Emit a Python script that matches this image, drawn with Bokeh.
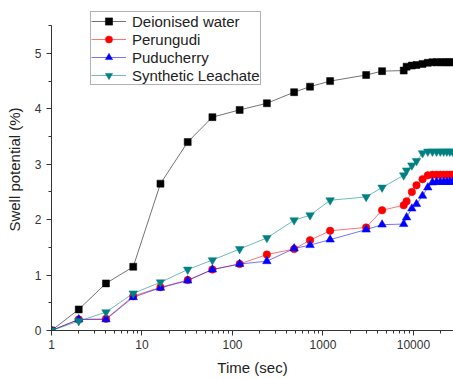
from bokeh.plotting import figure
from bokeh.models import (Range1d, FixedTicker, SingleIntervalTicker,
                          CustomJSTickFormatter, Legend, LegendItem)
from bokeh.embed import file_html
from bokeh.resources import INLINE

# ---- data ----
times = [1, 2, 4, 8, 16, 32, 60, 120, 240, 480, 720, 1200, 3000, 4500,
         7800, 8400, 9600, 10800, 12600, 14400, 16200, 18000, 19800,
         21600, 23400, 25200, 27000]

deionised = [0, 0.38, 0.85, 1.15, 2.65, 3.40, 3.85, 3.98, 4.10, 4.30, 4.40,
             4.50, 4.61, 4.68, 4.69, 4.76, 4.78, 4.79, 4.81, 4.83, 4.84,
             4.84, 4.84, 4.84, 4.84, 4.84, 4.84]
perungudi = [0, 0.20, 0.21, 0.62, 0.78, 0.91, 1.10, 1.20, 1.37, 1.47, 1.63,
             1.80, 1.86, 2.17, 2.26, 2.33, 2.50, 2.62, 2.73, 2.80, 2.81,
             2.81, 2.81, 2.81, 2.81, 2.81, 2.81]
puducherry = [0, 0.20, 0.20, 0.60, 0.77, 0.90, 1.10, 1.20, 1.25, 1.48, 1.54,
              1.64, 1.82, 1.91, 1.92, 2.04, 2.20, 2.28, 2.43, 2.58, 2.67,
              2.68, 2.68, 2.68, 2.68, 2.68, 2.68]
synthetic = [0, 0.17, 0.33, 0.67, 0.87, 1.10, 1.27, 1.47, 1.67, 1.99, 2.08,
             2.35, 2.41, 2.58, 2.80, 2.89, 2.98, 3.06, 3.20, 3.23, 3.23,
             3.23, 3.23, 3.23, 3.23, 3.23, 3.23]

series_names = ["Deionised water", "Perungudi", "Puducherry", "Synthetic Leachate"]
x_major = [1, 10, 100, 1000, 10000]
x_minor = [m * d for d in [1, 10, 100, 1000, 10000] for m in range(2, 10)]
y_axis_max = 5.5

FONT = "Liberation Sans"

p = figure(width=453, height=379, x_axis_type="log",
           x_range=Range1d(1, 27700), y_range=Range1d(0, 5.81),
           output_backend="svg", toolbar_location=None,
           min_border_left=51, min_border_right=0,
           min_border_top=8, min_border_bottom=49)

p.xgrid.visible = False
p.ygrid.visible = False
p.outline_line_color = None
p.background_fill_color = "white"
p.border_fill_color = "white"

styles = [
    (deionised, "black", "square", 7),
    (perungudi, "#ff0000", "circle", 7.5),
    (puducherry, "#0000ff", "triangle", 8.5),
    (synthetic, "#008080", "inverted_triangle", 8.5),
]

items = []
for name, (vals, col, mk, sz) in zip(series_names, styles):
    lr = p.line(times, vals, line_color=col, line_width=1, line_alpha=0.55)
    sr = p.scatter(times, vals, marker=mk, size=sz, fill_color=col,
                   line_color=col, line_width=0.5)
    items.append(LegendItem(label=name, renderers=[lr, sr]))

# axes
for ax in (p.xaxis[0], p.yaxis[0]):
    ax.axis_line_color = "#333333"
    ax.axis_line_width = 1
    ax.major_tick_line_color = "#333333"
    ax.minor_tick_line_color = "#333333"
    ax.major_tick_in = 0
    ax.major_tick_out = 5
    ax.minor_tick_in = 0
    ax.minor_tick_out = 3
    ax.major_label_text_font = FONT
    ax.major_label_text_font_size = "12px"
    ax.major_label_text_color = "#333333"
    ax.axis_label_text_font = FONT
    ax.axis_label_text_font_size = "15px"
    ax.axis_label_text_font_style = "normal"
    ax.axis_label_text_color = "#222222"

p.xaxis.ticker = FixedTicker(ticks=x_major, minor_ticks=x_minor)
p.xaxis.formatter = CustomJSTickFormatter(code="return String(Math.round(tick));")
p.xaxis.axis_label = "Time (sec)"
p.xaxis.major_label_standoff = 4
p.xaxis.axis_label_standoff = 7

p.yaxis.ticker = SingleIntervalTicker(interval=1, num_minor_ticks=2)
p.yaxis.bounds = (0, y_axis_max)
p.yaxis.axis_label = "Swell potential (%)"
p.yaxis.major_label_standoff = 5
p.yaxis.axis_label_standoff = 9

legend = Legend(items=items, location=(39, 245), padding=0, margin=0,
                spacing=0, glyph_width=35, glyph_height=18, label_height=18,
                label_standoff=6, label_width=126,
                label_text_font=FONT, label_text_font_size="15px",
                label_text_color="#222222",
                border_line_color="#666666", border_line_width=1,
                background_fill_color="white", background_fill_alpha=1)
p.add_layout(legend, "center")

open("out.html", "w").write(file_html(p, INLINE))
